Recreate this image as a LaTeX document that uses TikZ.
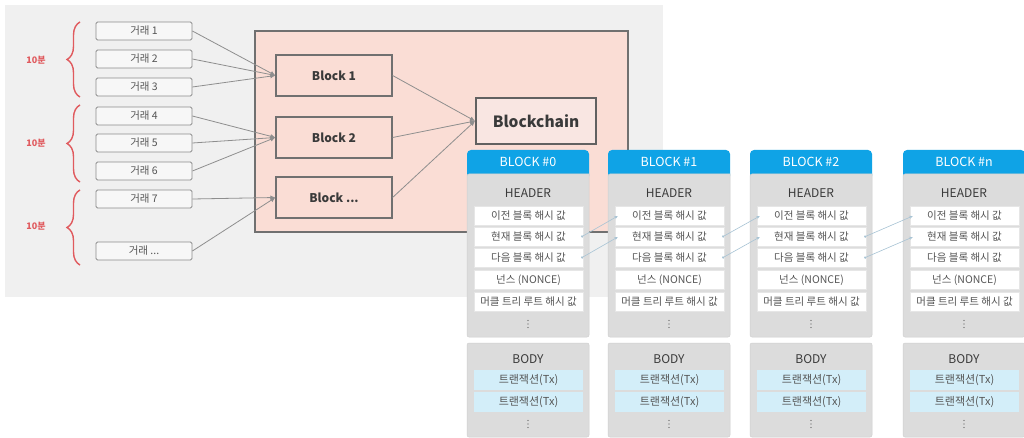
\documentclass[tikz,border=0pt]{standalone}
\usepackage{fontspec}
\setmainfont{Noto Sans CJK KR}
\usetikzlibrary{arrows.meta,decorations.pathreplacing}
\definecolor{panelgray}{HTML}{F0F0F0}
\definecolor{pinkfill}{HTML}{FADDD5}
\definecolor{chainfill}{HTML}{F9E6E2}
\definecolor{boxborder}{HTML}{707070}
\definecolor{txborder}{HTML}{8C8C8C}
\definecolor{txfill}{HTML}{F7F7F7}
\definecolor{darktext}{HTML}{3A3A3A}
\definecolor{midtext}{HTML}{555555}
\definecolor{arrgray}{HTML}{8E8E8E}
\definecolor{bracered}{HTML}{E05A5E}
\definecolor{hdrblue}{HTML}{0FA3E6}
\definecolor{colgray}{HTML}{DCDCDC}
\definecolor{colborder}{HTML}{CFCFCF}
\definecolor{rowborder}{HTML}{E6E6E6}
\definecolor{txblue}{HTML}{D3EEF9}
\definecolor{linkblue}{HTML}{A7C3D4}
\begin{document}
\begin{tikzpicture}[x=1pt,y=-1pt,
  tx/.style={draw=txborder, fill=txfill, rounded corners=1.5pt, minimum width=96pt, minimum height=18pt, inner sep=0pt, line width=0.8pt, font=\fontsize{10.5}{11}\selectfont, text=midtext},
  blk/.style={draw=boxborder, fill=pinkfill, minimum width=116pt, minimum height=41pt, inner sep=0pt, line width=1.2pt, font=\fontsize{12}{13}\selectfont\bfseries, text=darktext},
  chain/.style={draw=darktext!80, fill=chainfill, minimum width=120pt, minimum height=46pt, inner sep=0pt, line width=2pt, font=\fontsize{15.5}{17}\selectfont\bfseries, text=darktext},
  arr/.style={draw=arrgray, line width=0.8pt, -{Latex[length=5pt,width=4.5pt]}},
  bracestyle/.style={draw=bracered, line width=1.4pt, decorate, decoration={brace, amplitude=13pt}},
  minlabel/.style={text=bracered, font=\fontsize{9}{10}\selectfont\bfseries},
  rowbox/.style={fill=white, draw=rowborder, line width=0.4pt, minimum width=109pt, minimum height=19pt, inner sep=0pt, font=\fontsize{10.5}{11}\selectfont, text=midtext},
  txrow/.style={rowbox, fill=txblue, draw=none, minimum height=20pt, font=\fontsize{11}{12}\selectfont},
  title/.style={font=\fontsize{12}{13}\selectfont, text=darktext},
  hdrtitle/.style={font=\fontsize{12.5}{13}\selectfont, text=white},
  dotmark/.style={fill=midtext},
  link/.style={draw=linkblue, line width=0.6pt, {Circle[length=2.2pt]}-{Stealth[length=3.5pt,width=3pt]}}
]
\useasboundingbox (0,0) rectangle (1024,438);
\fill[white] (0,0) rectangle (1024,438);
% left panel
\fill[panelgray] (5,5) rectangle (663,297);
\draw[boxborder, line width=1.2pt, fill=pinkfill] (255,31) rectangle (628,232);

% transactions
\node[tx] (t1) at (144,31) {거래 1};
\node[tx] (t2) at (144,59) {거래 2};
\node[tx] (t3) at (144,87) {거래 3};
\node[tx] (t4) at (144,116) {거래 4};
\node[tx] (t5) at (144,143) {거래 5};
\node[tx] (t6) at (144,171) {거래 6};
\node[tx] (t7) at (144,199) {거래 7};
\node[tx] (t8) at (144,251) {거래 ...};

% braces
\draw[bracestyle] (80,97) -- (80,22);
\draw[bracestyle] (80,182) -- (80,105);
\draw[bracestyle] (80,265) -- (80,190);
\node[minlabel] (m1) at (36,60) {10분};
\node[minlabel] (m2) at (36,143) {10분};
\node[minlabel] (m3) at (36,226) {10분};

% blocks
\node[blk] (b1) at (334,75.5) {Block 1};
\node[blk] (b2) at (334,137.5) {Block 2};
\node[blk] (b3) at (334,197.5) {Block ...};
\node[chain] (bc) at (536,121) {Blockchain};

\foreach \s/\b in {t1/b1,t2/b1,t3/b1,t4/b2,t5/b2,t6/b2,t7/b3,t8/b3}
  \draw[arr] (\s.east) -- (\b.west);
\foreach \b in {b1,b2,b3}
  \draw[arr] (\b.east) -- (bc.west);

% block columns
\foreach \L/\i/\t in {467/0/{BLOCK \#0},608/1/{BLOCK \#1},750/2/{BLOCK \#2},903/n/{BLOCK \#n}}{
  \fill[hdrblue, rounded corners=4pt] (\L,150) rectangle (\L+122,180);
  \filldraw[fill=colgray, draw=colborder, line width=0.5pt] (\L,174) -- (\L+122,174) -- (\L+122,335) [rounded corners=2pt] -- (\L+122,337) -- (\L,337) -- cycle;
  \node[hdrtitle] (h\i) at (\L+61,162) {\t};
  \node[title] (hd\i) at (\L+61,193) {HEADER};
  \node[rowbox] (ra\i) at (\L+61.5,216) {이전 블록 해시 값};
  \node[rowbox] (rb\i) at (\L+61.5,237) {현재 블록 해시 값};
  \node[rowbox] (rc\i) at (\L+61.5,258) {다음 블록 해시 값};
  \node[rowbox] (rd\i) at (\L+61.5,280) {넌스 (NONCE)};
  \node[rowbox] (re\i) at (\L+61.5,302) {머클 트리 루트 해시 값};
  \foreach \d in {-3.5,0,3.5} \fill[dotmark] (\L+61,324+\d) circle (0.7pt);
  \filldraw[fill=colgray, draw=colborder, line width=0.5pt, rounded corners=2pt] (\L,343) rectangle (\L+122,437);
  \node[title] (bd\i) at (\L+61,359) {BODY};
  \node[txrow] (ta\i) at (\L+61.5,380) {트랜잭션(Tx)};
  \node[txrow] (tb\i) at (\L+61.5,402) {트랜잭션(Tx)};
  \foreach \d in {-3.5,0,3.5} \fill[dotmark] (\L+61,424+\d) circle (0.7pt);
}
\foreach \a/\c in {0/1,1/2,2/n}{
  \draw[link] ([xshift=-2pt]rb\a.east) -- ([xshift=3pt]ra\c.west);
  \draw[link] ([xshift=-2pt]rc\a.east) -- ([xshift=3pt]rb\c.west);
}
\end{tikzpicture}
\end{document}
